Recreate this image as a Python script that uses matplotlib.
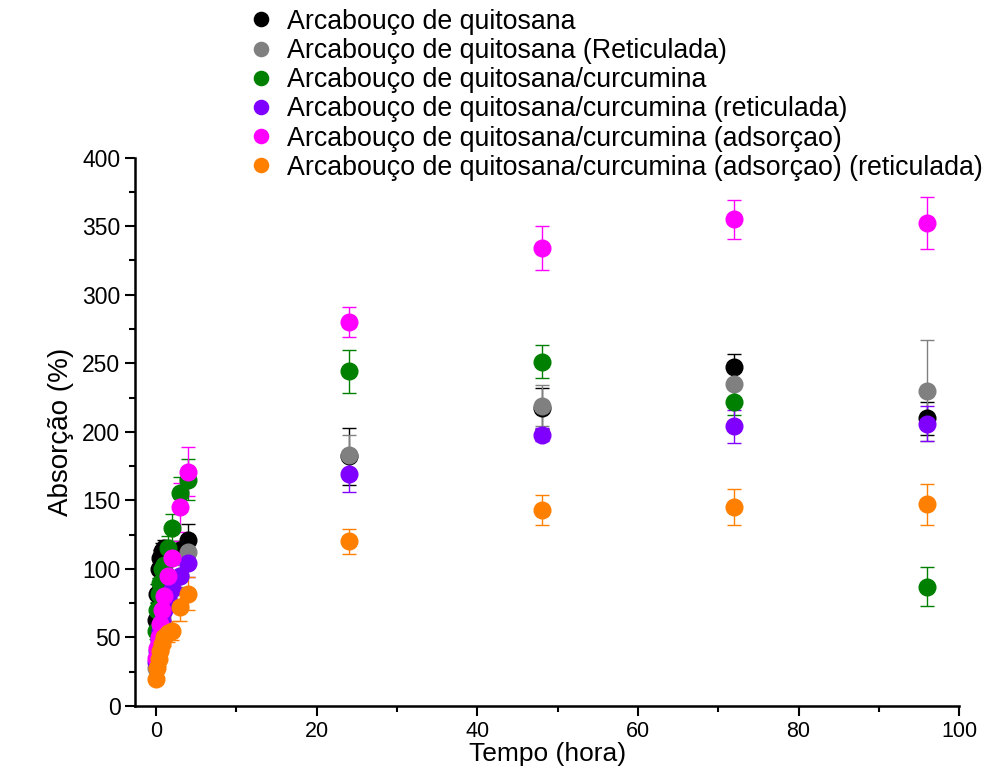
import matplotlib.pyplot as plt
from matplotlib.ticker import MultipleLocator

plt.rcParams['font.family'] = ['Liberation Sans', 'DejaVu Sans']

tempo = [0, 0.17, 0.33, 0.5, 0.75, 1, 1.5, 2, 3, 4, 24, 48, 72, 96]

labels = ['Arcabouço de quitosana',
          'Arcabouço de quitosana (Reticulada)',
          'Arcabouço de quitosana/curcumina',
          'Arcabouço de quitosana/curcumina (reticulada)',
          'Arcabouço de quitosana/curcumina (adsorçao)',
          'Arcabouço de quitosana/curcumina (adsorçao) (reticulada)']
cores = ['#000000', '#808080', '#008000', '#8000ff', '#ff00ff', '#ff8000']

quit = [63, 82, 100, 108, 113, 115, 112, 110, 114, 121, 182, 217, 247, 210]
quit_err = [6, 7, 7, 6, 6, 6, 6, 6, 6, 12, 21, 15, 10, 12]
quit_ret = [28, 35, 45, 55, 65, 72, 78, 85, 95, 112, 183, 219, 235, 230]
quit_ret_err = [5, 5, 6, 6, 6, 6, 7, 7, 8, 10, 15, 15, 10, 37]
curc = [55, 70, 82, 90, 100, 103, 115, 130, 155, 165, 244, 251, 222, 87]
curc_err = [6, 6, 7, 7, 8, 8, 9, 10, 12, 15, 16, 12, 10, 14]
curc_ret = [32, 40, 48, 55, 62, 70, 78, 85, 95, 104, 169, 198, 204, 206]
curc_ret_err = [5, 5, 6, 6, 6, 7, 7, 8, 9, 10, 13, 5, 12, 13]
ads = [35, 42, 50, 60, 70, 80, 95, 108, 145, 171, 280, 334, 355, 352]
ads_err = [5, 6, 6, 7, 8, 9, 10, 12, 18, 18, 11, 16, 14, 19]
ads_ret = [20, 28, 34, 40, 45, 50, 53, 55, 72, 82, 120, 143, 145, 147]
ads_ret_err = [4, 4, 5, 5, 5, 6, 6, 7, 10, 12, 9, 11, 13, 15]

series = [(quit, quit_err), (quit_ret, quit_ret_err), (curc, curc_err),
          (curc_ret, curc_ret_err), (ads, ads_err), (ads_ret, ads_ret_err)]

fig = plt.figure(figsize=(9.93, 7.69), dpi=100)
ax = fig.add_axes([0.136, 0.082, 0.830, 0.713])

for (ys, err), cor, lab in zip(series, cores, labels):
    ax.errorbar(tempo, ys, yerr=err, fmt='o', color=cor, markersize=12,
                ecolor=cor, elinewidth=1, capsize=5, capthick=1, label=lab)

ax.set_xlim(-2.6, 100)
ax.set_ylim(0, 400)
ax.xaxis.set_major_locator(MultipleLocator(20))
ax.xaxis.set_minor_locator(MultipleLocator(10))
ax.yaxis.set_major_locator(MultipleLocator(50))
ax.yaxis.set_minor_locator(MultipleLocator(25))
ax.tick_params(which='major', direction='out', length=7, width=1.5)
ax.tick_params(which='minor', direction='out', length=4, width=1.5)
ax.tick_params(axis='y', labelsize=16.5)
ax.tick_params(axis='x', labelsize=15.5)
for s in ['top', 'right']:
    ax.spines[s].set_visible(False)
for s in ['left', 'bottom']:
    ax.spines[s].set_linewidth(1.8)

ax.set_xlabel('Tempo (hora)', fontsize=19, labelpad=0)
ax.set_ylabel('Absorção (%)', fontsize=20, labelpad=6)

handles, labs = ax.get_legend_handles_labels()
handles = [h[0] for h in handles]
fig.legend(handles, labs, loc='upper left', bbox_to_anchor=(0.222, 1.02),
           frameon=False, fontsize=19.3, handletextpad=0.4, labelspacing=0.12,
           markerscale=0.85, handlelength=1.2)

plt.savefig('out.png', dpi=100)
